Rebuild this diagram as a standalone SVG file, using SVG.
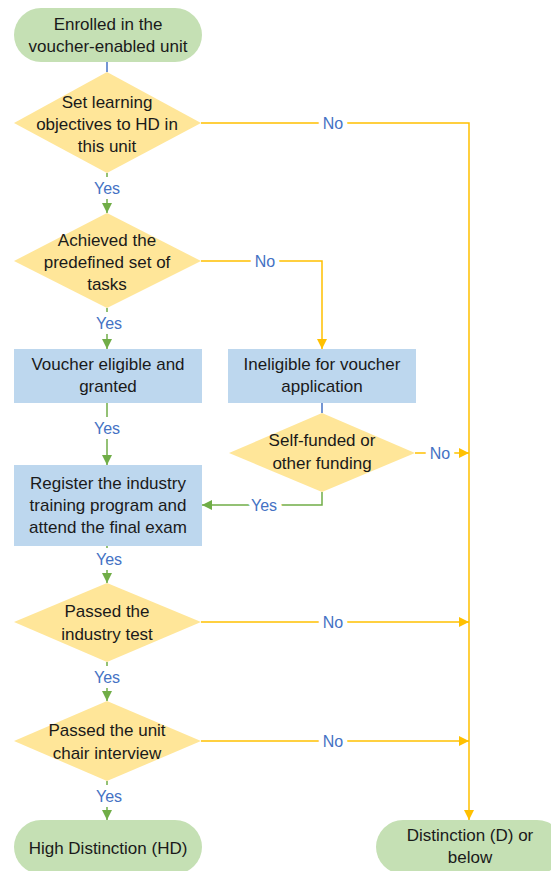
<svg xmlns="http://www.w3.org/2000/svg" width="551" height="871" viewBox="0 0 551 871">
<defs>
<marker id="ag" markerUnits="userSpaceOnUse" markerWidth="12" markerHeight="12" refX="10" refY="5" orient="auto"><path d="M0,0 L10,5 L0,10 Z" fill="#70AD47"/></marker>
<marker id="ao" markerUnits="userSpaceOnUse" markerWidth="12" markerHeight="12" refX="10" refY="5" orient="auto"><path d="M0,0 L10,5 L0,10 Z" fill="#FFC000"/></marker>
</defs>
<style>
.t{font-family:"Liberation Sans",Arial,sans-serif;font-size:17px;fill:#1a1a1a;text-anchor:middle}
.l{font-family:"Liberation Sans",Arial,sans-serif;font-size:16px;fill:#4472C4;text-anchor:middle;stroke:#fff;stroke-width:10px;paint-order:stroke}
.term{fill:#C5E0B4}
.dec{fill:#FFE699}
.proc{fill:#BDD7EE}
.g{fill:none;stroke:#70AD47;stroke-width:1.5}
.o{fill:none;stroke:#FFC000;stroke-width:1.5}
.b{fill:none;stroke:#4472C4;stroke-width:1.5}
</style>
<rect width="551" height="871" fill="#fff"/>
<g id="connectors">
<path class="b" d="M107,62 V72"/>
<path class="b" d="M322,403 V413"/>
<path class="g" d="M107,173 V213" marker-end="url(#ag)"/>
<path class="g" d="M107,308 V349" marker-end="url(#ag)"/>
<path class="g" d="M107,403 V465" marker-end="url(#ag)"/>
<path class="g" d="M322,492 V505 H202" marker-end="url(#ag)"/>
<path class="g" d="M107,546 V583" marker-end="url(#ag)"/>
<path class="g" d="M107,662 V701" marker-end="url(#ag)"/>
<path class="g" d="M107,781 V820" marker-end="url(#ag)"/>
<path class="o" d="M201,123 H469 V820" marker-end="url(#ao)"/>
<path class="o" d="M201,261 H322 V349" marker-end="url(#ao)"/>
<path class="o" d="M415,453 H469" marker-end="url(#ao)"/>
<path class="o" d="M201,622 H469" marker-end="url(#ao)"/>
<path class="o" d="M201,741 H469" marker-end="url(#ao)"/>
<text class="l" x="107" y="194">Yes</text>
<text class="l" x="109" y="329">Yes</text>
<text class="l" x="107" y="434">Yes</text>
<text class="l" x="109" y="565">Yes</text>
<text class="l" x="107" y="683">Yes</text>
<text class="l" x="109" y="802">Yes</text>
<text class="l" x="264" y="511">Yes</text>
<text class="l" x="333" y="129">No</text>
<text class="l" x="265" y="267">No</text>
<text class="l" x="440" y="459">No</text>
<text class="l" x="333" y="628">No</text>
<text class="l" x="333" y="747">No</text>
</g>
<g id="start">
<rect class="term" x="14" y="8" width="188" height="54" rx="27"/>
<text class="t" x="108" y="30">Enrolled in the</text>
<text class="t" x="108" y="52">voucher-enabled unit</text>
</g>
<g id="d1">
<polygon class="dec" points="107,72 201,123 107,173 14,123"/>
<text class="t" x="107" y="108">Set learning</text>
<text class="t" x="107" y="130">objectives to HD in</text>
<text class="t" x="107" y="152">this unit</text>
</g>
<g id="d2">
<polygon class="dec" points="107,213 201,261 107,308 14,261"/>
<text class="t" x="107" y="246">Achieved the</text>
<text class="t" x="107" y="268">predefined set of</text>
<text class="t" x="107" y="290">tasks</text>
</g>
<g id="voucher">
<rect class="proc" x="14" y="349" width="188" height="54"/>
<text class="t" x="108" y="370">Voucher eligible and</text>
<text class="t" x="108" y="392">granted</text>
</g>
<g id="ineligible">
<rect class="proc" x="228" y="349" width="188" height="54"/>
<text class="t" x="322" y="370">Ineligible for voucher</text>
<text class="t" x="322" y="392">application</text>
</g>
<g id="d3">
<polygon class="dec" points="322,413 415,453 322,492 229,453"/>
<text class="t" x="322" y="446">Self-funded or</text>
<text class="t" x="322" y="469">other funding</text>
</g>
<g id="register">
<rect class="proc" x="14" y="465" width="188" height="81"/>
<text class="t" x="108" y="489">Register the industry</text>
<text class="t" x="108" y="511">training program and</text>
<text class="t" x="108" y="533">attend the final exam</text>
</g>
<g id="d4">
<polygon class="dec" points="107,583 201,622 107,662 14,622"/>
<text class="t" x="107" y="617">Passed the</text>
<text class="t" x="107" y="640">industry test</text>
</g>
<g id="d5">
<polygon class="dec" points="107,701 201,741 107,781 14,741"/>
<text class="t" x="107" y="736">Passed the unit</text>
<text class="t" x="107" y="759">chair interview</text>
</g>
<g id="hd">
<rect class="term" x="14" y="820" width="188" height="54" rx="27"/>
<text class="t" x="108" y="854">High Distinction (HD)</text>
</g>
<g id="dist">
<rect class="term" x="376" y="820" width="188" height="54" rx="27"/>
<text class="t" x="470" y="841">Distinction (D) or</text>
<text class="t" x="470" y="863">below</text>
</g>
</svg>
